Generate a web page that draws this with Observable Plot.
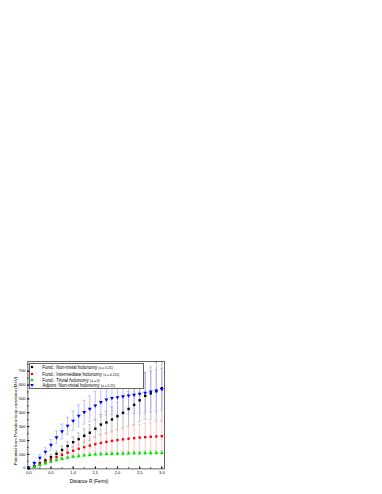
<!DOCTYPE html>
<html>
<head>
<meta charset="utf-8">
<script src="https://cdn.jsdelivr.net/npm/d3@7"></script>
<script src="https://cdn.jsdelivr.net/npm/@observablehq/plot@0.6"></script>
<style>
  html, body { margin: 0; padding: 0; background: #fff; }
  #wrap { position: relative; width: 382px; height: 494px; overflow: hidden; font-family: "Liberation Sans", Arial, sans-serif; }
  #wrap svg { position: absolute; left: 0; top: 0; }
  .lbl { position: absolute; white-space: nowrap; color: #000; }
  #legend { position: absolute; left: 29.3px; top: 363.3px; width: 114.5px; height: 25.8px; box-sizing: border-box; border: 0.6px solid #666; background: #fff; }
  .row { position: absolute; left: 0; height: 6px; line-height: 6px; font-size: 4.5px; white-space: nowrap; }
  .row svg { position: absolute; left: 6.5px; top: 1px; }
  .row span.t { position: absolute; left: 12px; top: 0; }
  .row small { font-size: 3.3px; }
</style>
</head>
<body>
<div id="wrap"></div>
<script>
// Distance R (Fermi)
const R = [0, 0.125, 0.25, 0.375, 0.5, 0.625, 0.75, 0.875, 1.0, 1.125, 1.25, 1.375, 1.5, 1.625, 1.75, 1.875, 2.0, 2.125, 2.25, 2.375, 2.5, 2.625, 2.75, 2.875, 3.0];
// Fund.: Non-trivial holonomy (a = 0.25)
const fundNonTrivial = [0, 15, 35, 56, 80, 104, 132, 160, 188, 210, 234, 256, 285, 315, 330, 352, 375, 400, 428, 457, 490, 522, 540, 555, 577];
const fundNonTrivialErr = [2, 6, 10, 14, 18, 22, 27, 32, 38, 44, 50, 57, 64, 72, 80, 90, 100, 112, 125, 140, 155, 170, 190, 210, 230];
// Fund.: Intermediate holonomy (a = 0.125)
const fundIntermediate = [0, 12, 28, 45, 62, 80, 96, 112, 126, 140, 152, 163, 173, 182, 190, 197, 203, 208, 213, 217, 221, 224, 227, 229, 231];
const fundIntermediateErr = [2, 4, 7, 10, 13, 17, 21, 26, 31, 36, 42, 48, 54, 60, 66, 72, 78, 83, 88, 92, 96, 99, 102, 104, 106];
// Fund.: Trivial holonomy (a = 0)
const fundTrivial = [0, 10, 22, 35, 47, 58, 68, 76, 83, 88, 92, 96, 99, 101, 103, 104, 105, 106, 107, 108, 108, 109, 109, 110, 110];
const fundTrivialErr = [1, 2, 3, 4, 5, 6, 7, 8, 9, 10, 10, 11, 11, 12, 12, 12, 13, 13, 13, 14, 14, 14, 14, 15, 15];
// Adjoint: Non-trivial holonomy (a = 0.25)
const adjNonTrivial = [5, 36, 75, 118, 168, 222, 265, 306, 342, 378, 404, 428, 452, 476, 495, 506, 512, 519, 524, 530, 537, 544, 552, 560, 570];
const adjNonTrivialErr = [5, 14, 22, 30, 38, 46, 54, 62, 70, 78, 86, 93, 100, 107, 113, 119, 125, 130, 135, 139, 142, 145, 147, 149, 150];

const xTicks = [0, 0.5, 1.0, 1.5, 2.0, 2.5, 3.0];
const xTickLabels = ["0,0", "0,5", "1,0", "1,5", "2,0", "2,5", "3,0"];
const yTicks = [0, 100, 200, 300, 400, 500, 600, 700];

const seriesNames = ["Fund.: Non-trivial holonomy", "Fund.: Intermediate holonomy", "Fund.: Trivial holonomy", "Adjoint: Non-trivial holonomy"];
const seriesParams = ["(a = 0.25)", "(a = 0.125)", "(a = 0)", "(a = 0.25)"];
const seriesColors = ["#000000", "#ff0000", "#00e000", "#0000ff"];
const barColors = ["#999999", "#ffa8a8", "#9af09a", "#9a9aff"];
const seriesSymbols = ["square", "square", "triangle", "triangle"];
const seriesRotate = [0, 0, 0, 180];

const values = [fundNonTrivial, fundIntermediate, fundTrivial, adjNonTrivial];
const errors = [fundNonTrivialErr, fundIntermediateErr, fundTrivialErr, adjNonTrivialErr];

const rows = [];
values.forEach((vals, s) => {
  vals.forEach((v, i) => rows.push({series: s, R: R[i], V: v, E: errors[s][i]}));
});

const capHalf = 0.03;
const marks = [];
for (let s = 0; s < 4; s++) {
  const d = rows.filter(r => r.series === s);
  marks.push(Plot.ruleX(d, {x: "R", y1: r => r.V - r.E, y2: r => r.V + r.E, stroke: barColors[s], strokeWidth: 0.9, strokeOpacity: 0.7, clip: "frame"}));
  marks.push(Plot.ruleY(d, {y: r => r.V + r.E, x1: r => r.R - capHalf, x2: r => r.R + capHalf, stroke: barColors[s], strokeWidth: 0.6, clip: "frame"}));
  marks.push(Plot.ruleY(d, {y: r => r.V - r.E, x1: r => r.R - capHalf, x2: r => r.R + capHalf, stroke: barColors[s], strokeWidth: 0.6, clip: "frame"}));
}
for (let s = 0; s < 4; s++) {
  const d = rows.filter(r => r.series === s);
  marks.push(Plot.dot(d, {x: "R", y: "V", symbol: seriesSymbols[s], r: s < 2 ? 1.35 : 1.45, fill: seriesColors[s], stroke: "none", rotate: seriesRotate[s]}));
}
marks.push(Plot.axisX({ticks: d3.range(0, 3.01, 0.25), tickSize: -1, tickFormat: () => "", anchor: "bottom"}));
marks.push(Plot.axisX({ticks: xTicks, tickSize: -2, tickPadding: 4.2, tickFormat: (d, i) => xTickLabels[i], fontSize: 4, anchor: "bottom"}));
marks.push(Plot.axisY({ticks: d3.range(0, 751, 50), tickSize: -1, tickFormat: () => "", anchor: "left"}));
marks.push(Plot.axisY({ticks: yTicks, tickSize: -2, tickPadding: 4.5, tickFormat: d => String(d), fontSize: 4, anchor: "left"}));
marks.push(Plot.frame({stroke: "#000", strokeWidth: 0.6}));

const chart = Plot.plot({
  width: 382,
  height: 494,
  marginLeft: 27.4,
  marginRight: 382 - 164,
  marginTop: 361,
  marginBottom: 494 - 468.4,
  style: {fontFamily: "'Liberation Sans', Arial, sans-serif", background: "transparent", color: "#000"},
  x: {domain: [-0.02, 3.06], label: null},
  y: {domain: [-5, 770], label: null},
  marks
});

const wrap = document.getElementById("wrap");
wrap.appendChild(chart);

const xt = document.createElement("div");
xt.className = "lbl";
xt.textContent = "Distance R (Fermi)";
xt.style.cssText = "font-size:4.6px; left:89px; top:478.5px; transform:translateX(-50%);";
wrap.appendChild(xt);

const yt = document.createElement("div");
yt.className = "lbl";
yt.textContent = "Potential from Polyakov loop correlator (MeV)";
yt.style.cssText = "font-size:4.4px; left:14.7px; top:421px; transform:translate(-50%,-50%) rotate(-90deg);";
wrap.appendChild(yt);

const legend = document.createElement("div");
legend.id = "legend";
const rowTops = [1.0, 8.0, 13.7, 19.0];
seriesNames.forEach((name, s) => {
  const row = document.createElement("div");
  row.className = "row";
  row.style.top = rowTops[s] + "px";
  const sym = d3.create("svg").attr("width", 4).attr("height", 4).attr("viewBox", "-2 -2 4 4");
  const sh = s < 2 ? d3.symbolSquare : d3.symbolTriangle;
  const size = Math.PI * (s < 2 ? 1.25 : 1.35) ** 2;
  sym.append("path").attr("d", d3.symbol(sh, size)()).attr("fill", seriesColors[s])
    .attr("transform", seriesRotate[s] ? "rotate(180)" : null);
  row.appendChild(sym.node());
  const t = document.createElement("span");
  t.className = "t";
  t.innerHTML = name + " <small>" + seriesParams[s] + "</small>";
  row.appendChild(t);
  legend.appendChild(row);
});
wrap.appendChild(legend);
</script>
</body>
</html>
